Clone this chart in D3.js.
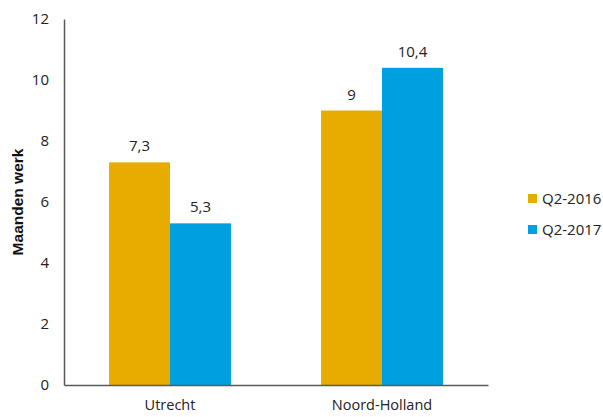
<!DOCTYPE html>
<html>
<head>
<meta charset="utf-8">
<script src="https://cdn.jsdelivr.net/npm/d3@7"></script>
<style>
  body { margin: 0; background: #fff; }
  text { font-family: "Open Sans", "DejaVu Sans", sans-serif; }
</style>
</head>
<body>
<svg id="chart" width="603" height="417"></svg>
<script>
// data
const regions = ["Utrecht", "Noord-Holland"];
const series = ["Q2-2016", "Q2-2017"];
const q2016 = [7.3, 9];
const q2017 = [5.3, 10.4];
const yTicks = [0, 2, 4, 6, 8, 10, 12];
const colors = ["#E8AB00", "#009FE0"];

const svg = d3.select("#chart");
const margin = { top: 19, left: 64 };
const width = 424, height = 366;

const g = svg.append("g").attr("transform", `translate(${margin.left},${margin.top})`);

const x0 = d3.scaleBand().domain(regions).range([0, width]).paddingInner(0.425).paddingOuter(0.2125);
const x1 = d3.scaleBand().domain(series).range([0, x0.bandwidth()]);
const y = d3.scaleLinear().domain([0, 12]).range([height, 0]);

const fmt = v => String(v).replace(".", ",");

// bars
const rows = regions.map((r, i) => ({ region: r, vals: [q2016[i], q2017[i]] }));
const grp = g.selectAll(".grp").data(rows).enter().append("g")
  .attr("transform", d => `translate(${x0(d.region)},0)`);

grp.selectAll("rect").data(d => d.vals.map((v, j) => ({ s: series[j], v: v, j: j })))
  .enter().append("rect")
  .attr("x", d => x1(d.s))
  .attr("y", d => y(d.v))
  .attr("width", x1.bandwidth())
  .attr("height", d => height - y(d.v))
  .attr("fill", d => colors[d.j]);

grp.selectAll("text.val").data(d => d.vals.map((v, j) => ({ s: series[j], v: v })))
  .enter().append("text")
  .attr("class", "val")
  .attr("x", d => x1(d.s) + x1.bandwidth() / 2)
  .attr("y", d => y(d.v) - 11)
  .attr("text-anchor", "middle")
  .attr("font-size", 15)
  .attr("fill", "#222")
  .text(d => fmt(d.v));

// y axis
const yAxis = g.append("g").call(d3.axisLeft(y).tickValues(yTicks).tickSize(0).tickPadding(15));
yAxis.select(".domain").attr("stroke", "#595959").attr("stroke-width", 1.5);
yAxis.selectAll("text").attr("font-size", 15).attr("fill", "#222")
  .style("font-family", "'Open Sans', 'DejaVu Sans', sans-serif");

// x axis
const xAxis = g.append("g").attr("transform", `translate(0,${height})`)
  .call(d3.axisBottom(x0).tickSize(0).tickPadding(15));
xAxis.select(".domain").attr("stroke", "#595959").attr("stroke-width", 1.5);
xAxis.selectAll("text").attr("font-size", 14.5).attr("fill", "#222")
  .style("font-family", "'Open Sans', 'DejaVu Sans', sans-serif");

// y label
svg.append("text")
  .attr("transform", "translate(23,202) rotate(-90)")
  .attr("text-anchor", "middle")
  .attr("font-size", 15.5)
  .attr("font-weight", "bold")
  .style("font-family", "'Liberation Sans', Arial, sans-serif")
  .attr("fill", "#111")
  .text("Maanden werk");

// legend
const legend = svg.selectAll(".legend").data(series).enter().append("g")
  .attr("transform", (d, i) => `translate(528,${194 + i * 31})`);
legend.append("rect").attr("width", 9).attr("height", 9).attr("fill", (d, i) => colors[i]);
legend.append("text").attr("x", 14).attr("y", 5).attr("dy", "0.35em")
  .attr("font-size", 15).attr("fill", "#222").text(d => d);
</script>
</body>
</html>
